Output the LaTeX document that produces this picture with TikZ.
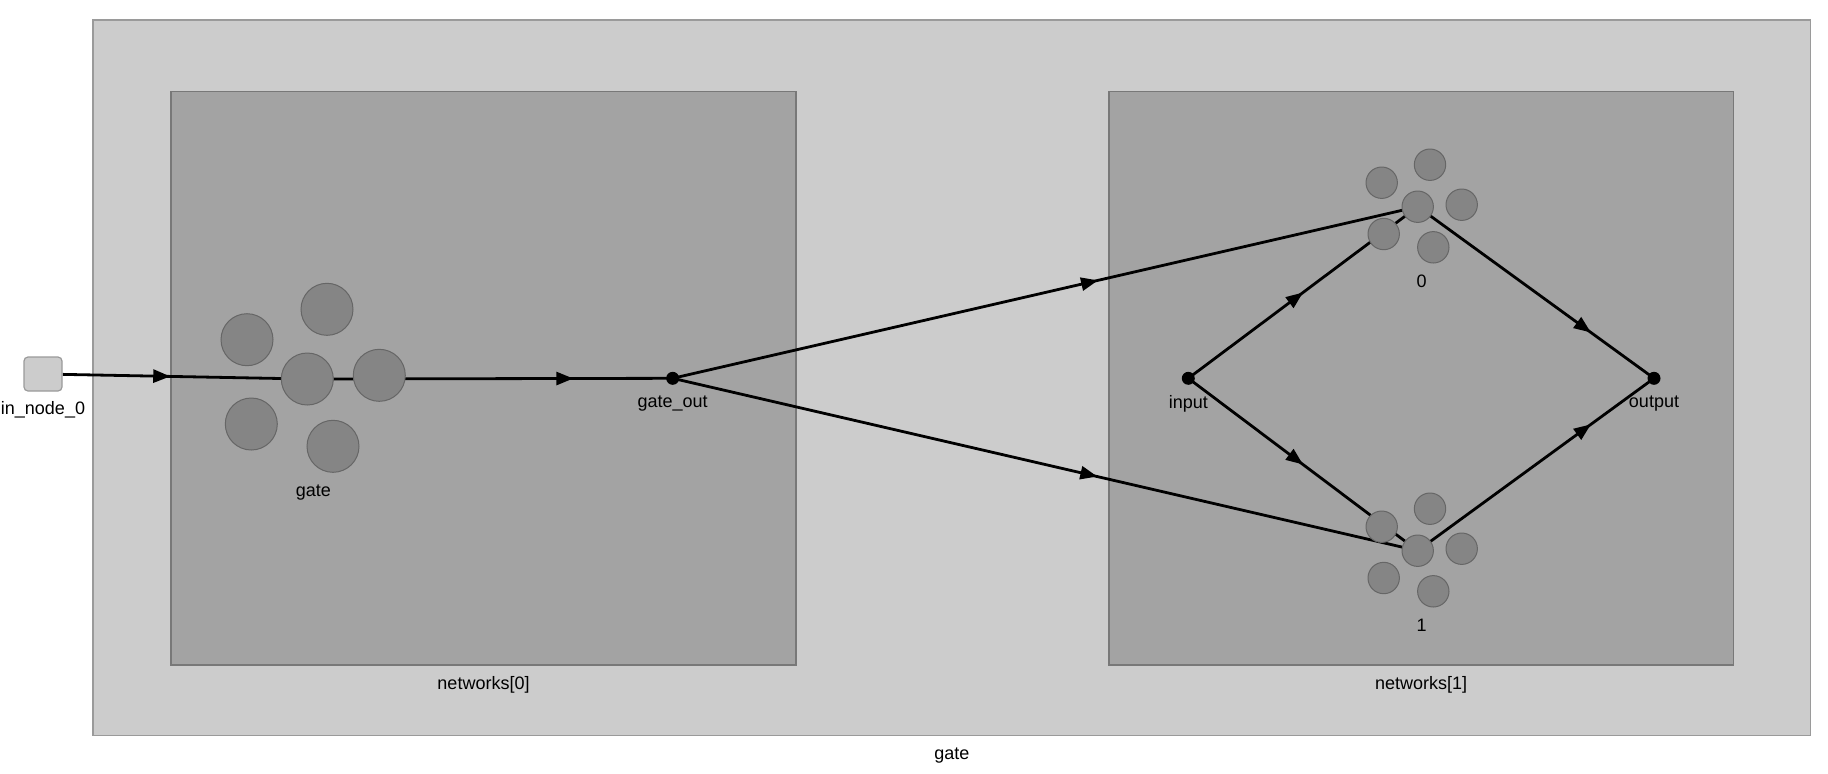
\documentclass[tikz,border=0pt]{standalone}
\usepackage{fontspec}
\setmainfont{Liberation Sans}
\usepackage{xcolor}
\usetikzlibrary{arrows.meta,decorations.markings}
\definecolor{outerbg}{HTML}{CCCCCC}
\definecolor{outerln}{HTML}{9A9A9A}
\definecolor{innerbg}{HTML}{A3A3A3}
\definecolor{innerln}{HTML}{787878}
\definecolor{unit}{HTML}{858585}
\definecolor{unitln}{HTML}{666666}
\pgfdeclarelayer{bg}
\pgfdeclarelayer{wires}
\pgfsetlayers{bg,wires,main}
\tikzset{
  every picture/.style={font=\fontsize{9}{11}\selectfont},
  cluster/.style={draw=outerln, fill=outerbg, line width=0.8pt},
  subnet/.style={draw=innerln, fill=innerbg, line width=0.8pt},
  blob/.style={circle, draw=unitln, fill=unit, line width=0.5pt, inner sep=0pt, minimum size=#1},
  blob/.default=26pt,
  port/.style={circle, fill=black, inner sep=0pt, minimum size=6.5pt},
  innode/.style={draw=outerln, fill=outerbg, rounded corners=2pt, line width=0.6pt,
    minimum width=19pt, minimum height=17pt, inner sep=0pt},
  lbl/.style={inner sep=0pt, text=black},
  link/.style={line width=1.4pt, postaction=decorate,
    decoration={markings, mark=at position #1 with {\arrow{Triangle[length=8.5pt,width=6.5pt]}}}},
}
\begin{document}
\begin{tikzpicture}[x=0.5pt, y=-0.5pt]
\useasboundingbox (0,0) rectangle (1828,773);
% clusters
\begin{pgfonlayer}{bg}
\draw[cluster] (93,20) rectangle (1810.5,735.5);
\draw[subnet] (171,91.5) rectangle (796,665);
\draw[subnet] (1108.7,91.5) rectangle (1733.5,665);
\end{pgfonlayer}
\node[lbl] (gatelbl) at (951.8,756) {gate};
\node[lbl] (net0lbl) at (483.5,685) {networks[0]};
\node[lbl] (net1lbl) at (1421.1,685) {networks[1]};
% input
\node[innode] (in0) at (43,374) {};
\node[lbl] (in0lbl) at (43,409.5) {in\_node\_0};
% gate cluster
\node[blob] (gate) at (307.3,379) {};
\foreach \dx/\dy [count=\i] in {19.7/-69.7, -60.3/-39.3, 72/-3.7, -56/45, 25.7/67.3}
  \node[blob] (gate-\i) at ([shift={(\dx,\dy)}]gate) {};
\node[lbl] (gatename) at (313.3,492.5) {gate};
\node[port] (gout) at (672.7,378.3) {};
\node[lbl] (goutlbl) at (672.7,404) {gate\_out};
% second network
\node[port] (inp) at (1188.3,378.3) {};
\node[lbl] (inplbl) at (1188.3,404) {input};
\node[port] (outp) at (1654,378.3) {};
\node[lbl] (outplbl) at (1654,404) {output};
\node[blob=15.7pt] (u0) at (1417.7,206.7) {};
\node[blob=15.7pt] (u1) at (1417.7,550.7) {};
\foreach \dx/\dy [count=\i] in {12.3/-42, -36/-24, 44/-2, -34/27.3, 15.6/40.6} {
  \node[blob=15.7pt] (u0-\i) at ([shift={(\dx,\dy)}]u0) {};
  \node[blob=15.7pt] (u1-\i) at ([shift={(\dx,\dy)}]u1) {};
}
\node[lbl] (u0lbl) at (1421.7,281) {0};
\node[lbl] (u1lbl) at (1421.7,625) {1};
% edges
\begin{pgfonlayer}{wires}
\draw[link=0.44] (in0) -- (gate.center);
\draw[link=0.728] (gate.center) -- (gout.center);
\draw[link=0.571] (gout.center) -- (u0.center);
\draw[link=0.570] (gout.center) -- (u1.center);
\draw[link=0.5] (inp.center) -- (u0.center);
\draw[link=0.5] (inp.center) -- (u1.center);
\draw[link=0.733] (u0.center) -- (outp.center);
\draw[link=0.733] (u1.center) -- (outp.center);
\end{pgfonlayer}
\end{tikzpicture}
\end{document}
